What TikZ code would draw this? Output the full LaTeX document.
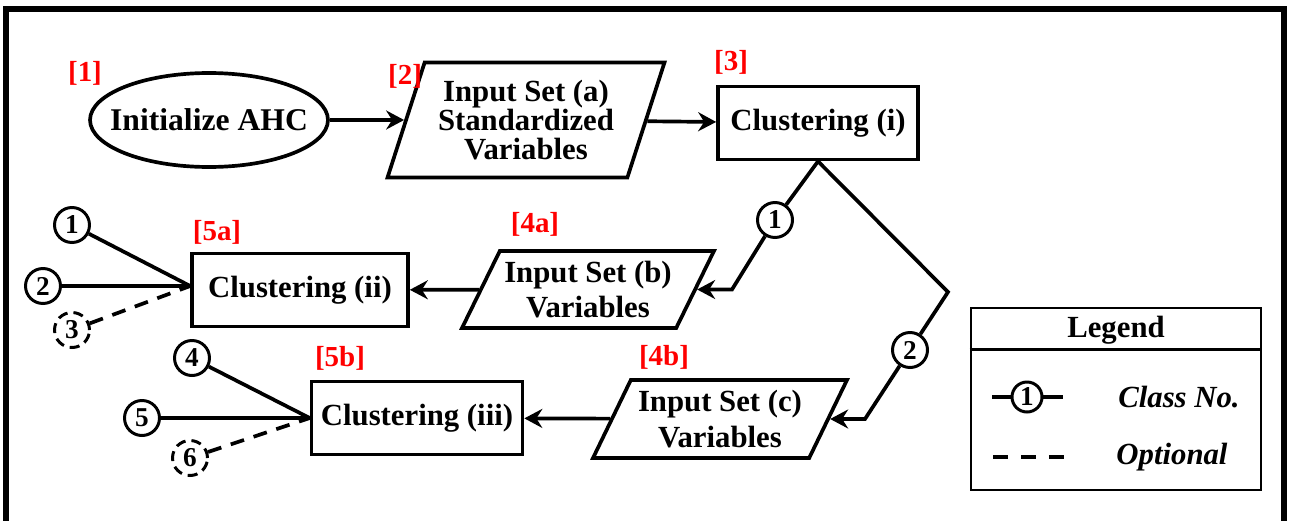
\documentclass[tikz,border=0pt]{standalone}
\usepackage{fontspec}
\setmainfont{Liberation Serif}
\usetikzlibrary{shapes.geometric,arrows.meta}

\begin{document}
\begin{tikzpicture}[x=0.02cm,y=-0.02cm,
    font=\fontsize{17.5}{20}\selectfont\bfseries,
    lnk/.style={line width=2.1pt},
    arr/.style={lnk,-{Stealth[length=0.36cm,width=0.38cm,inset=0.12cm]}},
    opt/.style={lnk,dash pattern=on 0.28cm off 0.2cm},
    box/.style={draw,line width=2.1pt,minimum height=1.46cm,inner sep=2pt},
    io/.style={draw,line width=2.1pt,trapezium,trapezium stretches body,align=center,inner sep=1pt},
    cls/.style={draw,circle,line width=1.7pt,minimum size=0.7cm,inner sep=0pt,font=\fontsize{15.5}{15.5}\selectfont\bfseries},
    tag/.style={text=red,font=\fontsize{16.5}{16.5}\selectfont\bfseries},
    key/.style={font=\fontsize{17.5}{20}\selectfont\bfseries\itshape}]
    \useasboundingbox (0,0) rectangle (1289,521);
    \draw[line width=3pt] (6,521) -- (6,9) -- (1284,9) -- (1284,521);

    \node[draw,ellipse,line width=2.1pt,inner xsep=-0.3cm,inner ysep=0pt,minimum width=4.76cm,minimum height=1.88cm,
          font=\fontsize{18}{20}\selectfont\bfseries] (init) at (209,120) {Initialize AHC};
    \node[io,trapezium left angle=66,trapezium right angle=114,minimum width=5.54cm,minimum height=2.3cm,
          font=\fontsize{17.5}{16.5}\selectfont\bfseries] (inA) at (526,120) {Input Set (a)\\Standardized\\Variables};
    \node[box,minimum width=4cm] (ci) at (818,123) {Clustering (i)};
    \node[io,trapezium left angle=58,trapezium right angle=122,minimum width=5.04cm,minimum height=1.54cm] (inB) at (588,289.5) {Input Set (b)\\Variables};
    \node[box,minimum width=4.32cm] (cii) at (300,290) {Clustering (ii)};
    \node[io,trapezium left angle=58,trapezium right angle=122,minimum width=5.08cm,minimum height=1.56cm] (inC) at (720,419) {Input Set (c)\\Variables};
    \node[box,minimum width=4.22cm] (ciii) at (417,418) {Clustering (iii)};

    \node[tag] (t1) at (85,73) {[1]};
    \node[tag] (t2) at (405,76) {[2]};
    \node[tag] (t3) at (731,62) {[3]};
    \node[tag] (t4a) at (535,224) {[4a]};
    \node[tag] (t5a) at (217,232) {[5a]};
    \node[tag] (t4b) at (664,357) {[4b]};
    \node[tag] (t5b) at (340,358) {[5b]};

    \draw[arr] (init) -- (inA);
    \draw[arr] (inA) -- (ci);

    \node[cls] (k1) at (775,220) {1};
    \node[cls] (k2) at (910,350) {2};
    \coordinate (e1) at (732,289.5);
    \coordinate (apex) at (948,292);
    \coordinate (e2) at (865,419);
    \draw[lnk] (ci.south) -- (k1);
    \draw[arr] (k1) -- (e1) -- (inB);
    \draw[lnk] (ci.south) -- (apex) -- (k2);
    \draw[arr] (k2) -- (e2) -- (inC);

    \draw[arr] (inB) -- (cii);
    \draw[arr] (inC) -- (ciii);

    \coordinate (jii) at ([yshift=0.08cm]cii.west);
    \node[cls] (a1) at (72,225) {1};
    \node[cls] (a2) at (43,286) {2};
    \node[cls,dash pattern=on 0.2cm off 0.12cm] (a3) at (72,330) {3};
    \draw[lnk] (a1) -- (jii);
    \draw[lnk] (a2) -- (jii);
    \draw[opt] (a3) -- (jii);

    \node[cls] (b4) at (192,358) {4};
    \node[cls] (b5) at (142,418) {5};
    \node[cls,dash pattern=on 0.2cm off 0.12cm] (b6) at (190,458) {6};
    \draw[lnk] (b4) -- (ciii.west);
    \draw[lnk] (b5) -- (ciii.west);
    \draw[opt] (b6) -- (ciii.west);

    \node[draw,line width=1.5pt,minimum width=5.8cm,minimum height=3.64cm] (lgd) at (1116,399) {};
    \node (lgdhead) at (1116,330) {Legend};
    \draw[line width=1.5pt] ([yshift=-0.86cm]lgd.north west) -- ([yshift=-0.86cm]lgd.north east);
    \node[cls,minimum size=0.6cm] (keyc) at (1027,397) {1};
    \coordinate (keyl) at (992,397);
    \coordinate (keyr) at (1063,397);
    \draw[lnk] (keyl) -- (keyc) -- (keyr);
    \coordinate (optl) at (993,457);
    \coordinate (optr) at (1066,457);
    \draw[lnk,dash pattern=on 0.3cm off 0.26cm] (optl) -- (optr);
    \node[key] (keytxt) at (1179,397) {Class No.};
    \node[key] (opttxt) at (1172,457) {Optional};
\end{tikzpicture}
\end{document}
